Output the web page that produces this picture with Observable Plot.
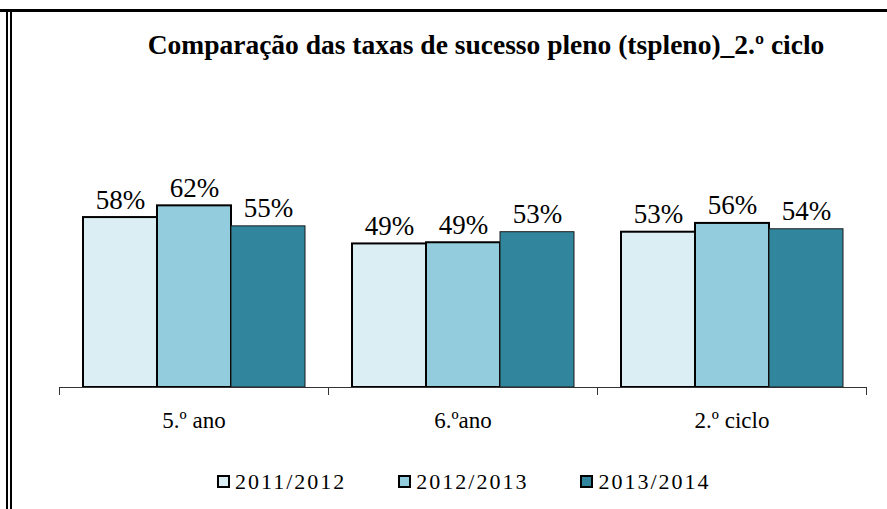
<!DOCTYPE html>
<html>
<head>
<meta charset="utf-8">
<script src="https://cdn.jsdelivr.net/npm/d3@7"></script>
<script src="https://cdn.jsdelivr.net/npm/@observablehq/plot@0.6"></script>
<style>
  body { margin: 0; background: #fff; }
  #wrap { position: relative; width: 887px; height: 509px; overflow: hidden; font-family: "Liberation Serif", "Times New Roman", serif; background: #fff; }
  #topline { position: absolute; left: 0; top: 9px; width: 887px; height: 3px; background: #000; }
  #left1 { position: absolute; left: 6px; top: 12px; bottom: 0; width: 1.5px; background: #000; }
  #left2 { position: absolute; left: 10px; top: 12px; bottom: 0; width: 2px; background: #000; }
  #title { position: absolute; top: 31px; left: 106px; width: 760px; text-align: center; font-family: "Liberation Serif", serif; font-weight: bold; font-size: 27.5px; line-height: 1; white-space: nowrap; color: #000; }
  #chart { position: absolute; left: 0; top: 70px; }
  #legend { position: absolute; top: 471px; left: 217px; display: flex; gap: 52px; font-size: 22px; line-height: 22px; letter-spacing: 2px; color: #000; white-space: nowrap; }
  .item { display: flex; align-items: center; }
  .sw { width: 13px; height: 13px; box-sizing: border-box; border: 2px solid #000; margin-right: 5px; margin-top: -1px; }
</style>
</head>
<body>
<div id="wrap">
  <div id="topline"></div>
  <div id="left1"></div>
  <div id="left2"></div>
  <div id="title"></div>
  <div id="chart"></div>
  <div id="legend"></div>
</div>
<script>
const titleText = "Comparação das taxas de sucesso pleno (tspleno)_2.º ciclo";
const categories = ["5.º ano", "6.ºano", "2.º ciclo"];
const years = ["2011/2012", "2012/2013", "2013/2014"];
const values2011_2012 = [0.58, 0.49, 0.53];
const values2012_2013 = [0.62, 0.494, 0.56];
const values2013_2014 = [0.55, 0.53, 0.54];
const colors = ["#DAEEF3", "#93CDDD", "#31859C"];

const series = [values2011_2012, values2012_2013, values2013_2014];
const data = categories.flatMap((c, i) => series.map((vals, j) => ({category: c, year: years[j], value: vals[i]})));

document.getElementById("title").textContent = titleText;

const W = 887, H = 370, ML = 59, MR = 21;
const half = (W - ML - MR) / categories.length / 2;
const font = "'Liberation Serif', 'Times New Roman', serif";

const chart = Plot.plot({
  width: W,
  height: H,
  marginLeft: ML,
  marginRight: MR,
  marginTop: 24,
  marginBottom: 53,
  style: {fontFamily: font, background: "transparent", color: "#000"},
  fx: {domain: categories, padding: 0, label: null},
  x: {domain: years, paddingInner: 0, paddingOuter: 0.3, axis: null},
  y: {domain: [0, 1], axis: null},
  color: {domain: years, range: colors},
  marks: [
    Plot.barY(data.filter(d => d.year !== years[2]), {fx: "category", x: "year", y: "value", fill: "year", stroke: "#000", strokeWidth: 2}),
    Plot.barY(data.filter(d => d.year === years[2]), {fx: "category", x: "year", y: "value", fill: "year", stroke: "#1a1a1a", strokeWidth: 1}),
    Plot.ruleY([0], {stroke: "#333", strokeWidth: 1}),
    Plot.text(data, {fx: "category", x: "year", y: "value", text: d => Math.round(d.value * 100) + "%", dy: -9, lineAnchor: "bottom", fontSize: 27, fontFamily: font, fill: "#000"}),
    Plot.axisFx({anchor: "bottom", tickSize: 0, tickPadding: 24, fontSize: 23, fontFamily: font, label: null}),
    Plot.axisFx({anchor: "bottom", tickSize: 8, tickFormat: () => "", dx: -half, stroke: "#333"}),
    Plot.axisFx({anchor: "bottom", ticks: [categories[categories.length - 1]], tickSize: 8, tickFormat: () => "", dx: half, stroke: "#333"})
  ]
});
document.getElementById("chart").appendChild(chart);

const legend = document.getElementById("legend");
years.forEach((y, j) => {
  const item = document.createElement("div");
  item.className = "item";
  const sw = document.createElement("div");
  sw.className = "sw";
  sw.style.background = colors[j];
  const t = document.createElement("span");
  t.textContent = y;
  item.appendChild(sw);
  item.appendChild(t);
  legend.appendChild(item);
});
</script>
</body>
</html>
